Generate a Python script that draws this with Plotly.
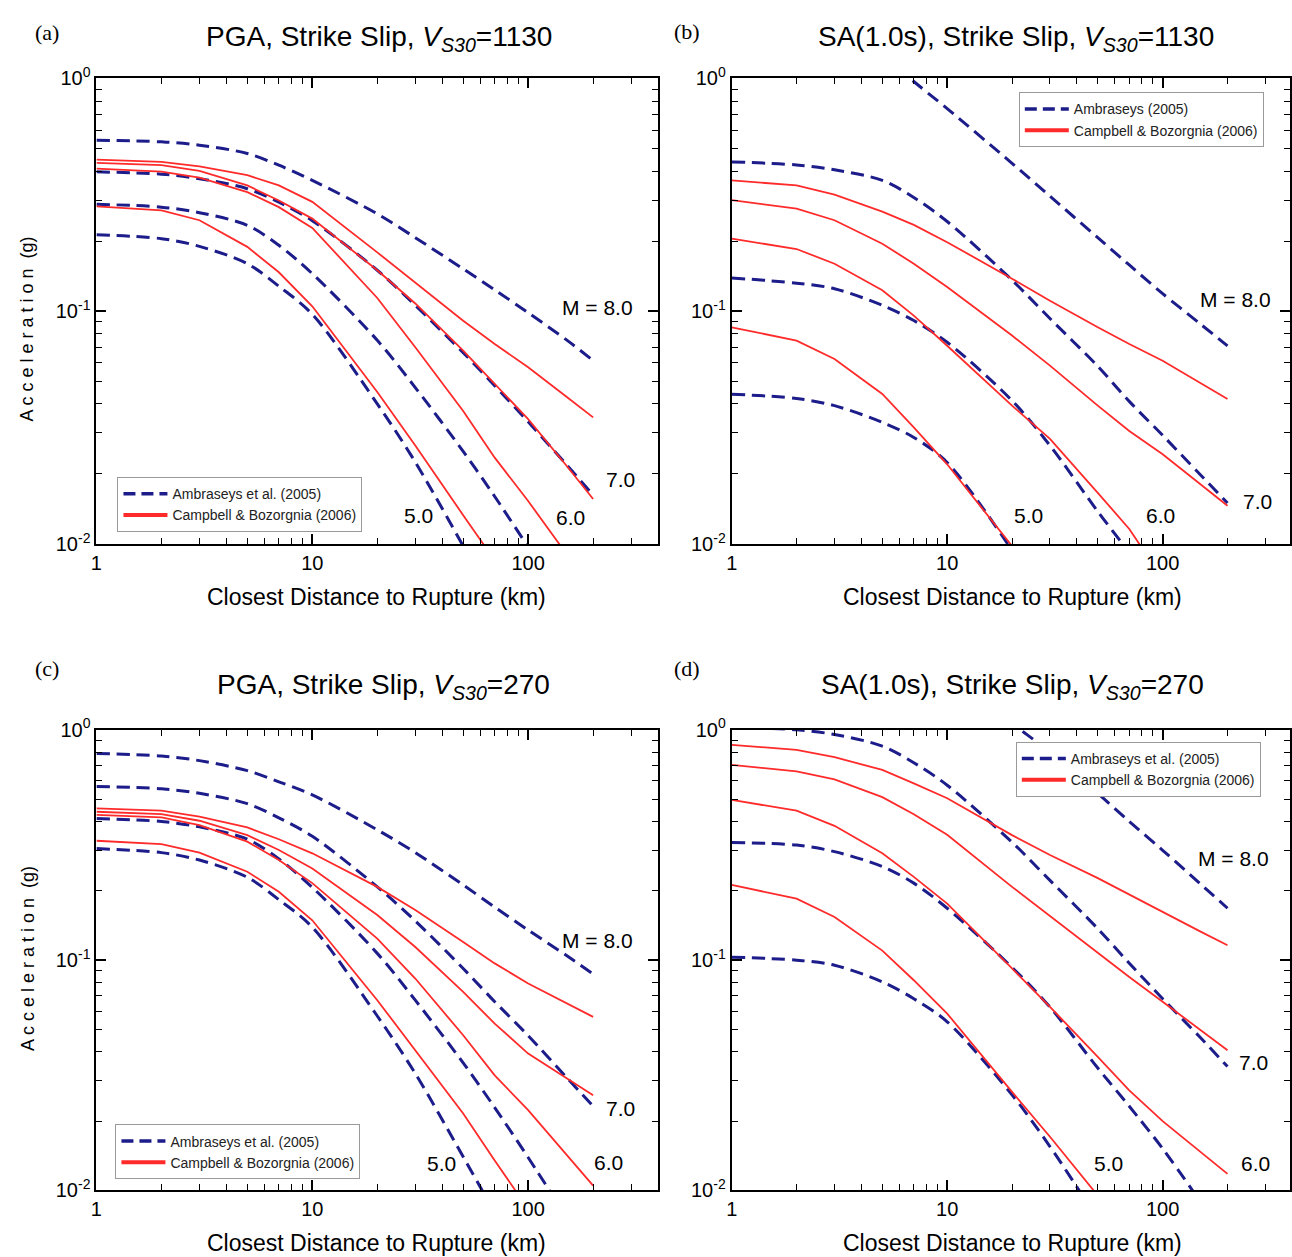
import plotly.graph_objects as go

W, H = 1292, 1257

# Distances (km)
D = [1, 2, 3, 5, 7, 10, 20, 30, 50, 70, 100, 150, 200]

# ---- (a) PGA, Vs30=1130 ----
a_amb_m8 = [0.543, 0.534, 0.517, 0.476, 0.424, 0.365, 0.262, 0.207, 0.152, 0.1235, 0.0985, 0.0755, 0.0614]
a_amb_m7 = [0.397, 0.388, 0.371, 0.336, 0.294, 0.245, 0.150, 0.106, 0.0664, 0.0479, 0.0335, 0.022, 0.0162]
a_amb_m6 = [0.288, 0.280, 0.265, 0.234, 0.192, 0.145, 0.075, 0.047, 0.025, 0.016, 0.0097]
a_amb_m5 = [0.213, 0.205, 0.190, 0.160, 0.128, 0.097, 0.040, 0.0225, 0.0098]
a_cb_m8 = [0.448, 0.438, 0.419, 0.384, 0.347, 0.295, 0.179, 0.133, 0.091, 0.0723, 0.0575, 0.043, 0.035]
a_cb_m7 = [0.434, 0.424, 0.401, 0.347, 0.299, 0.250, 0.150, 0.108, 0.0677, 0.0487, 0.0344, 0.0218, 0.0156]
a_cb_m6 = [0.41, 0.398, 0.375, 0.325, 0.28, 0.228, 0.114, 0.070, 0.0373, 0.0235, 0.0153, 0.0091]
a_cb_m5 = [0.282, 0.271, 0.246, 0.189, 0.147, 0.105, 0.045, 0.0265, 0.0133, 0.0085]

# ---- (b) SA(1.0s), Vs30=1130 ----
b_amb_m8 = [None, None, None, 1.27, 0.97, 0.742, 0.432, 0.312, 0.207, 0.158, 0.119, 0.088, 0.071]
b_amb_m7 = [0.438, 0.425, 0.405, 0.365, 0.308, 0.243, 0.136, 0.093, 0.058, 0.041, 0.0293, 0.0198, 0.0150]
b_amb_m6 = [0.139, 0.132, 0.125, 0.106, 0.0912, 0.0736, 0.0413, 0.0265, 0.0138, 0.0092]
b_amb_m5 = [0.044, 0.0422, 0.0393, 0.0333, 0.0287, 0.0224, 0.0094]
b_cb_m8 = [0.365, 0.347, 0.317, 0.268, 0.235, 0.198, 0.138, 0.111, 0.0853, 0.0723, 0.0613, 0.049, 0.042]
b_cb_m7 = [0.30, 0.276, 0.246, 0.195, 0.160, 0.127, 0.0786, 0.0584, 0.0393, 0.0306, 0.0243, 0.018, 0.0146]
b_cb_m6 = [0.205, 0.185, 0.160, 0.123, 0.0958, 0.0711, 0.0393, 0.0283, 0.0166, 0.0116, 0.0071]
b_cb_m5 = [0.0853, 0.0748, 0.0624, 0.0441, 0.0317, 0.0220, 0.0098]

# ---- (c) PGA, Vs30=270 ----
c_amb_m8 = [0.79, 0.77, 0.735, 0.665, 0.595, 0.522, 0.368, 0.293, 0.212, 0.17, 0.135, 0.105, 0.087]
c_amb_m7 = [0.567, 0.555, 0.53, 0.478, 0.415, 0.345, 0.208, 0.148, 0.092, 0.066, 0.047, 0.0311, 0.0232]
c_amb_m6 = [0.412, 0.40, 0.379, 0.335, 0.275, 0.207, 0.107, 0.067, 0.0358, 0.0229, 0.0139, 0.0077]
c_amb_m5 = [0.305, 0.293, 0.272, 0.229, 0.183, 0.139, 0.0572, 0.0322, 0.014, 0.008]
c_cb_m8 = [0.456, 0.446, 0.420, 0.377, 0.335, 0.291, 0.208, 0.165, 0.120, 0.0968, 0.0792, 0.0652, 0.0567]
c_cb_m7 = [0.441, 0.431, 0.403, 0.349, 0.301, 0.250, 0.157, 0.114, 0.0728, 0.053, 0.0393, 0.0308, 0.0259]
c_cb_m6 = [0.427, 0.417, 0.386, 0.327, 0.272, 0.216, 0.124, 0.0832, 0.0472, 0.0316, 0.0223, 0.0144, 0.0105]
c_cb_m5 = [0.33, 0.319, 0.293, 0.242, 0.198, 0.149, 0.067, 0.0406, 0.0216, 0.0135, 0.0083]

# ---- (d) SA(1.0s), Vs30=270 ----
d_amb_m8 = [None, None, None, None, None, 1.9, 1.07, 0.80, 0.53, 0.40, 0.30, 0.214, 0.168]
d_amb_m7 = [1.03, 1.0, 0.955, 0.85, 0.72, 0.575, 0.325, 0.222, 0.137, 0.097, 0.068, 0.046, 0.0345]
d_amb_m6 = [0.324, 0.316, 0.296, 0.255, 0.216, 0.168, 0.093, 0.0625, 0.034, 0.0232, 0.0152, 0.0089]
d_amb_m5 = [0.103, 0.1, 0.095, 0.0805, 0.068, 0.054, 0.026, 0.0155, 0.0075]
d_cb_m8 = [0.86, 0.819, 0.761, 0.67, 0.586, 0.505, 0.349, 0.286, 0.227, 0.192, 0.162, 0.133, 0.116]
d_cb_m7 = [0.705, 0.66, 0.61, 0.51, 0.43, 0.35, 0.208, 0.155, 0.107, 0.0845, 0.066, 0.0497, 0.0406]
d_cb_m6 = [0.496, 0.446, 0.383, 0.291, 0.230, 0.176, 0.092, 0.0627, 0.038, 0.0272, 0.020, 0.0147, 0.0118]
d_cb_m5 = [0.212, 0.185, 0.154, 0.11, 0.0818, 0.0586, 0.0268, 0.0171, 0.0095]

titles = ["PGA, Strike Slip, <i>V</i><sub><i>S30</i></sub>=1130",
          "SA(1.0s), Strike Slip, <i>V</i><sub><i>S30</i></sub>=1130",
          "PGA, Strike Slip, <i>V</i><sub><i>S30</i></sub>=270",
          "SA(1.0s), Strike Slip, <i>V</i><sub><i>S30</i></sub>=270"]
panel_tags = ["(a)", "(b)", "(c)", "(d)"]
amb_names = ["Ambraseys et al. (2005)", "Ambraseys (2005)",
             "Ambraseys et al. (2005)", "Ambraseys et al. (2005)"]
cb_name = "Campbell & Bozorgnia (2006)"
x_tick_vals = [1, 10, 100]
x_tick_text = ["1", "10", "100"]
y_tick_vals = [0.01, 0.1, 1]
y_tick_text = ["10<sup>-2</sup>", "10<sup>-1</sup>", "10<sup>0</sup>"]
mag_labels = ["M = 8.0", "7.0", "6.0", "5.0"]

panels = [
    dict(amb=[a_amb_m8, a_amb_m7, a_amb_m6, a_amb_m5], cb=[a_cb_m8, a_cb_m7, a_cb_m6, a_cb_m5]),
    dict(amb=[b_amb_m8, b_amb_m7, b_amb_m6, b_amb_m5], cb=[b_cb_m8, b_cb_m7, b_cb_m6, b_cb_m5]),
    dict(amb=[c_amb_m8, c_amb_m7, c_amb_m6, c_amb_m5], cb=[c_cb_m8, c_cb_m7, c_cb_m6, c_cb_m5]),
    dict(amb=[d_amb_m8, d_amb_m7, d_amb_m6, d_amb_m5], cb=[d_cb_m8, d_cb_m7, d_cb_m6, d_cb_m5]),
]

# target geometry in reference-picture pixels
boxes = [(96, 657, 77, 543), (731, 1291, 77, 543), (96, 657, 729, 1190), (731, 1291, 729, 1190)]
legend_pos = [(117, 476), (1018, 91), (115, 1124), (1015, 741)]
title_pos = [(378, 37), (1015, 37), (383, 686), (1012, 686)]
tag_pos = [(47, 31), (686, 30), (47, 668), (686, 668)]
xtitle_pos = [(376, 596), (1012, 596), (376, 1243), (1012, 1243)]
ytitle_pos = [(27, 328), None, (27, 958), None]
mag_pos = [
    [(597, 306), (620, 478), (570, 516), (418, 514)],
    [(1235, 298), (1257, 500), (1160, 514), (1028, 514)],
    [(597, 940), (620, 1108), (608, 1162), (441, 1163)],
    [(1233, 858), (1253, 1062), (1255, 1163), (1108, 1163)],
]

BLUE = "#1c1c8a"
RED = "#ff2a2a"
FONT = "Liberation Sans"

# the rendered page is slightly offset/scaled; compensate
SX, OX = 0.9934, 5.6
SY, OY = 0.981, 12.5

def to_paper(x, y):
    xi = (x - OX) / SX
    yi = (y - OY) / SY
    return xi / W, 1 - yi / H

fig = go.Figure()
minor_x = [2, 3, 4, 5, 6, 7, 8, 9, 20, 30, 40, 50, 60, 70, 80, 90, 200, 300, 400]
minor_y = [0.02, 0.03, 0.04, 0.05, 0.06, 0.07, 0.08, 0.09, 0.2, 0.3, 0.4, 0.5, 0.6, 0.7, 0.8, 0.9]

annotations = []
for i, p in enumerate(panels):
    n = "" if i == 0 else str(i + 1)
    xa, ya = "x" + n, "y" + n
    leg = "legend" + n
    for vals in p["amb"]:
        fig.add_trace(go.Scatter(x=D[:len(vals)], y=vals, mode="lines", xaxis=xa, yaxis=ya,
                                 line=dict(color=BLUE, width=3, dash="13px,7px", shape="spline", smoothing=0.9),
                                 showlegend=False, hoverinfo="skip"))
    for vals in p["cb"]:
        fig.add_trace(go.Scatter(x=D[:len(vals)], y=vals, mode="lines", xaxis=xa, yaxis=ya,
                                 line=dict(color=RED, width=1.8),
                                 showlegend=False, hoverinfo="skip"))
    fig.add_trace(go.Scatter(x=[None], y=[None], mode="lines", xaxis=xa, yaxis=ya,
                             line=dict(color=BLUE, width=3.5, dash="12px,6px"),
                             name=amb_names[i], legend=leg))
    fig.add_trace(go.Scatter(x=[None], y=[None], mode="lines", xaxis=xa, yaxis=ya,
                             line=dict(color=RED, width=4), name=cb_name, legend=leg))

    x0, x1, y0, y1 = boxes[i]
    dx0, dy0 = to_paper(x0, y1)
    dx1, dy1 = to_paper(x1, y0)
    xr = 2.6 * min(1.0, (1 - dx0) / (dx1 - dx0)) if dx1 > 1 else 2.6
    common = dict(showline=True, linecolor="black", linewidth=2, mirror="allticks",
                  ticks="inside", ticklen=10, tickwidth=1.5, tickcolor="black",
                  showgrid=False, zeroline=False,
                  tickfont=dict(family=FONT, size=20, color="black"))
    lx, ly = to_paper(*legend_pos[i])
    fig.update_layout(**{
        "xaxis" + n: dict(type="log", range=[0, xr], domain=[dx0, min(dx1, 1)],
                          anchor=ya, tickvals=x_tick_vals, ticktext=x_tick_text,
                          minor=dict(ticks="inside", ticklen=6, tickwidth=1, tickcolor="black",
                                     tickvals=minor_x),
                          **common),
        "yaxis" + n: dict(type="log", range=[-2, 0], domain=[dy0, dy1],
                          anchor=xa, tickvals=y_tick_vals, ticktext=y_tick_text,
                          minor=dict(ticks="inside", ticklen=6, tickwidth=1, tickcolor="black",
                                     tickvals=minor_y),
                          **common),
        leg: dict(x=lx, y=ly, xanchor="left", yanchor="top",
                  bgcolor="white", bordercolor="#9a9a9a", borderwidth=1,
                  font=dict(family=FONT, size=14, color="#222222"),
                  tracegroupgap=0, itemwidth=44),
    })

    tx, ty = to_paper(*title_pos[i])
    annotations.append(dict(x=tx, y=ty, xref="paper", yref="paper", text=titles[i], showarrow=False,
                            font=dict(family=FONT, size=28, color="black"), xanchor="center", yanchor="middle"))
    gx, gy = to_paper(*tag_pos[i])
    annotations.append(dict(x=gx, y=gy, xref="paper", yref="paper", text=panel_tags[i], showarrow=False,
                            font=dict(family="Liberation Serif", size=22, color="black"),
                            xanchor="center", yanchor="middle"))
    ax_x, ax_y = to_paper(*xtitle_pos[i])
    annotations.append(dict(x=ax_x, y=ax_y, xref="paper", yref="paper",
                            text="Closest Distance to Rupture (km)", showarrow=False,
                            font=dict(family=FONT, size=23, color="black"),
                            xanchor="center", yanchor="middle"))
    if ytitle_pos[i] is not None:
        yx, yy = to_paper(*ytitle_pos[i])
        annotations.append(dict(x=yx, y=yy, xref="paper", yref="paper", text="A c c e l e r a t i o n  (g)",
                                showarrow=False, textangle=-90,
                                font=dict(family=FONT, size=18, color="black"),
                                xanchor="center", yanchor="middle"))
    for lab, (mx, my) in zip(mag_labels, mag_pos[i]):
        qx, qy = to_paper(mx, my)
        annotations.append(dict(x=qx, y=qy, xref="paper", yref="paper", text=lab, showarrow=False,
                                font=dict(family=FONT, size=21, color="black"),
                                xanchor="center", yanchor="middle"))

fig.update_layout(width=W, height=H, margin=dict(l=0, r=0, t=0, b=0),
                  paper_bgcolor="white", plot_bgcolor="white",
                  annotations=annotations, showlegend=True)

fig.write_html("out.html")
